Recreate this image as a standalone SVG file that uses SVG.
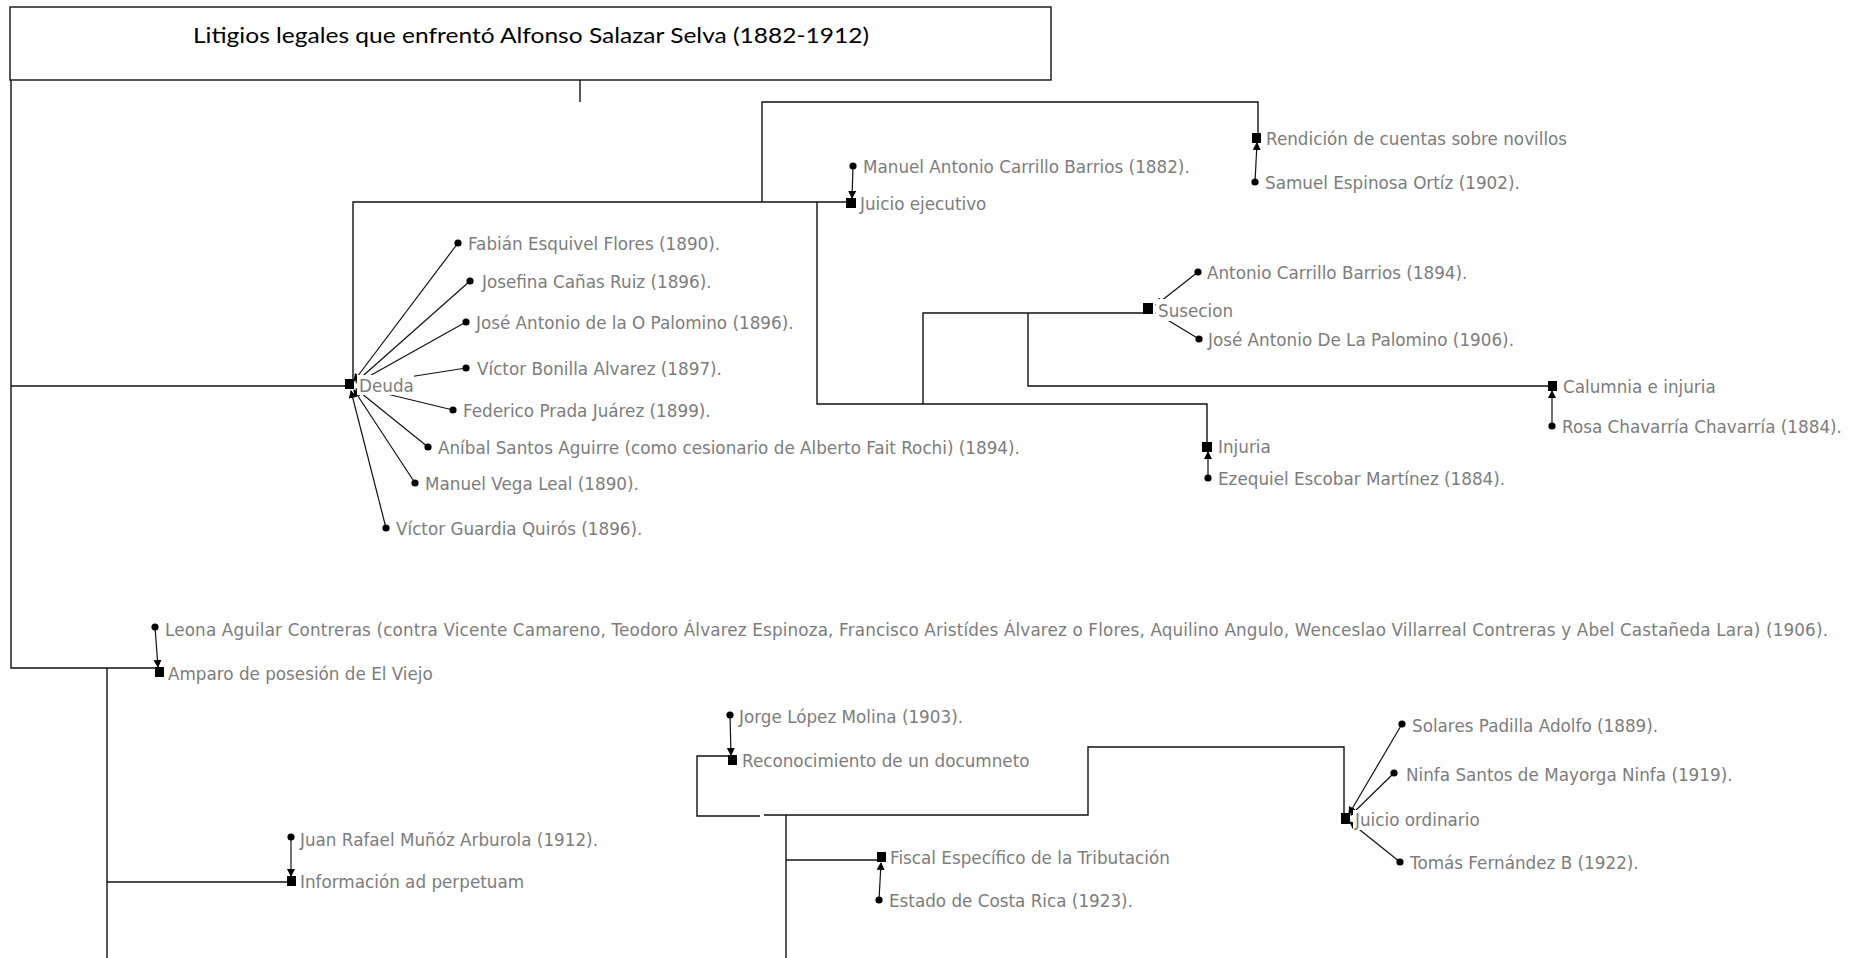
<svg xmlns="http://www.w3.org/2000/svg" width="1870" height="958" viewBox="0 0 1870 958">
<style>
.ln{fill:none;stroke:#111;stroke-width:1.4}
.ar{fill:none;stroke:#111;stroke-width:1.2;marker-end:url(#ah)}
.lb{font-family:"DejaVu Sans","Liberation Sans",sans-serif;font-size:16.8px;fill:#7c7c7c}
.sq{fill:#000}
.dt{fill:#000}
.bg{fill:#fff}
</style>
<defs>
<marker id="ah" markerUnits="userSpaceOnUse" markerWidth="9" markerHeight="9" refX="7" refY="4" orient="auto">
<path d="M0,0 L8,4 L0,8 Z" fill="#000"/>
</marker>
</defs>
<rect width="1870" height="958" fill="#fff"/>

<g id="connectors">
<line class="ln" x1="580" y1="80" x2="580" y2="102"/>
<polyline class="ln" points="11,80 11,668 155,668"/>
<line class="ln" x1="11" y1="386" x2="345" y2="386"/>
<polyline class="ln" points="353,380 353,202 846,202"/>
<polyline class="ln" points="762,202 762,102 1258,102 1258,133"/>
<polyline class="ln" points="817,202 817,404 1207,404 1207,442"/>
<polyline class="ln" points="923,404 923,313 1143,313"/>
<polyline class="ln" points="1028,313 1028,386 1548,386"/>
<line class="ln" x1="107" y1="668" x2="107" y2="958"/>
<line class="ln" x1="107" y1="882" x2="287" y2="882"/>
<polyline class="ln" points="728,756 697,756 697,816 760,816"/>
<polyline class="ln" points="764,815 1088,815 1088,747 1344,747 1344,813"/>
<line class="ln" x1="786" y1="815" x2="786" y2="958"/>
<line class="ln" x1="786" y1="860" x2="877" y2="860"/>
<!-- Deuda fan -->
<line class="ar" x1="458" y1="243" x2="354" y2="381"/>
<line class="ar" x1="470" y1="281" x2="356" y2="382"/>
<line class="ar" x1="466" y1="322" x2="357" y2="383"/>
<line class="ar" x1="466" y1="368" x2="358" y2="385"/>
<line class="ar" x1="453" y1="410" x2="358" y2="387"/>
<line class="ar" x1="428" y1="447" x2="356" y2="389"/>
<line class="ar" x1="415" y1="483" x2="354" y2="390"/>
<line class="ar" x1="386" y1="528" x2="351" y2="391"/>
<!-- Susecion fan -->
<line class="ar" x1="1198" y1="272" x2="1156" y2="305"/>
<line class="ar" x1="1199" y1="339" x2="1156" y2="313"/>
<!-- Juicio ordinario fan -->
<line class="ar" x1="1402" y1="724" x2="1349" y2="814"/>
<line class="ar" x1="1394" y1="773" x2="1351" y2="815"/>
<line class="ar" x1="1400" y1="862" x2="1350" y2="822"/>
<!-- single arrows -->
<line class="ar" x1="853" y1="166" x2="852" y2="198"/>
<line class="ar" x1="1255" y1="182" x2="1257" y2="143"/>
<line class="ar" x1="1208" y1="478" x2="1208" y2="452"/>
<line class="ar" x1="1552" y1="426" x2="1552" y2="391"/>
<line class="ar" x1="155" y1="627" x2="158" y2="667"/>
<line class="ar" x1="291" y1="837" x2="291" y2="876"/>
<line class="ar" x1="730" y1="715" x2="731" y2="755"/>
<line class="ar" x1="879" y1="900" x2="881" y2="863"/>
</g>

<g id="title">
<rect x="10" y="7" width="1041" height="73" fill="#fff" stroke="#111" stroke-width="1.4"/>
<text x="531" y="43" text-anchor="middle" font-family="Lato,'Liberation Sans',sans-serif" font-size="21" fill="#000" textLength="676" lengthAdjust="spacingAndGlyphs">Litigios legales que enfrentó Alfonso Salazar Selva (1882-1912)</text>
</g>

<g id="deuda">
<rect class="bg" x="357" y="375" width="57" height="20"/>
<rect class="sq" x="345" y="379" width="9" height="10"/>
<text class="lb" x="359" y="392">Deuda</text>
</g>
<g id="p-fabian"><circle class="dt" cx="458" cy="243" r="3.6"/><text class="lb" x="468" y="250">Fabián Esquivel Flores (1890).</text></g>
<g id="p-josefina"><circle class="dt" cx="470" cy="281" r="3.6"/><text class="lb" x="482" y="288">Josefina Cañas Ruiz (1896).</text></g>
<g id="p-jose-o"><circle class="dt" cx="466" cy="322" r="3.6"/><text class="lb" x="476" y="329">José Antonio de la O Palomino (1896).</text></g>
<g id="p-bonilla"><circle class="dt" cx="466" cy="368" r="3.6"/><text class="lb" x="477" y="375">Víctor Bonilla Alvarez (1897).</text></g>
<g id="p-federico"><circle class="dt" cx="453" cy="410" r="3.6"/><text class="lb" x="463" y="417">Federico Prada Juárez (1899).</text></g>
<g id="p-anibal"><circle class="dt" cx="428" cy="447" r="3.6"/><text class="lb" x="438" y="454">Aníbal Santos Aguirre (como cesionario de Alberto Fait Rochi) (1894).</text></g>
<g id="p-manuel-vega"><circle class="dt" cx="415" cy="483" r="3.6"/><text class="lb" x="425" y="490">Manuel Vega Leal (1890).</text></g>
<g id="p-guardia"><circle class="dt" cx="386" cy="528" r="3.6"/><text class="lb" x="396" y="535">Víctor Guardia Quirós (1896).</text></g>

<g id="juicio-ejecutivo"><rect class="sq" x="846" y="198" width="10" height="10"/><text class="lb" x="860" y="210">Juicio ejecutivo</text></g>
<g id="p-manuel-carrillo"><circle class="dt" cx="853" cy="166" r="3.6"/><text class="lb" x="863" y="173">Manuel Antonio Carrillo Barrios (1882).</text></g>

<g id="rendicion"><rect class="sq" x="1252" y="133" width="9" height="10"/><text class="lb" x="1266" y="145">Rendición de cuentas sobre novillos</text></g>
<g id="p-samuel"><circle class="dt" cx="1255" cy="182" r="3.6"/><text class="lb" x="1265" y="189">Samuel Espinosa Ortíz (1902).</text></g>

<g id="susecion">
<rect class="bg" x="1156" y="299" width="76" height="22"/>
<rect class="sq" x="1143" y="303" width="10" height="11"/>
<text class="lb" x="1158" y="317">Susecion</text>
</g>
<g id="p-antonio"><circle class="dt" cx="1198" cy="272" r="3.6"/><text class="lb" x="1207" y="279">Antonio Carrillo Barrios (1894).</text></g>
<g id="p-jose-de-la"><circle class="dt" cx="1199" cy="339" r="3.6"/><text class="lb" x="1208" y="346">José Antonio De La Palomino (1906).</text></g>

<g id="calumnia"><rect class="sq" x="1548" y="381" width="9" height="10"/><text class="lb" x="1563" y="393">Calumnia e injuria</text></g>
<g id="p-rosa"><circle class="dt" cx="1552" cy="426" r="3.6"/><text class="lb" x="1562" y="433">Rosa Chavarría Chavarría (1884).</text></g>

<g id="injuria"><rect class="sq" x="1202" y="442" width="10" height="10"/><text class="lb" x="1218" y="453">Injuria</text></g>
<g id="p-ezequiel"><circle class="dt" cx="1208" cy="478" r="3.6"/><text class="lb" x="1218" y="485">Ezequiel Escobar Martínez (1884).</text></g>

<g id="amparo"><rect class="sq" x="155" y="667" width="9" height="10"/><text class="lb" x="168" y="680">Amparo de posesión de El Viejo</text></g>
<g id="p-leona"><circle class="dt" cx="155" cy="627" r="3.6"/><text class="lb" x="165" y="636" textLength="1663">Leona Aguilar Contreras (contra Vicente Camareno, Teodoro Álvarez Espinoza, Francisco Aristídes Álvarez o Flores, Aquilino Angulo, Wenceslao Villarreal Contreras y Abel Castañeda Lara) (1906).</text></g>

<g id="informacion"><rect class="sq" x="287" y="876" width="9" height="10"/><text class="lb" x="300" y="888">Información ad perpetuam</text></g>
<g id="p-juan"><circle class="dt" cx="291" cy="837" r="3.6"/><text class="lb" x="300" y="846">Juan Rafael Muñóz Arburola (1912).</text></g>

<g id="reconocimiento"><rect class="sq" x="728" y="755" width="9" height="10"/><text class="lb" x="742" y="767">Reconocimiento de un documneto</text></g>
<g id="p-jorge"><circle class="dt" cx="730" cy="715" r="3.6"/><text class="lb" x="739" y="723">Jorge López Molina (1903).</text></g>

<g id="fiscal"><rect class="sq" x="877" y="852" width="9" height="10"/><text class="lb" x="890" y="864">Fiscal Específico de la Tributación</text></g>
<g id="p-estado"><circle class="dt" cx="879" cy="900" r="3.6"/><text class="lb" x="889" y="907">Estado de Costa Rica (1923).</text></g>

<g id="juicio-ordinario">
<rect class="bg" x="1353" y="810" width="130" height="20"/>
<rect class="sq" x="1341" y="813" width="9" height="11"/>
<text class="lb" x="1355" y="826">Juicio ordinario</text>
</g>
<g id="p-solares"><circle class="dt" cx="1402" cy="724" r="3.6"/><text class="lb" x="1412" y="732">Solares Padilla Adolfo (1889).</text></g>
<g id="p-ninfa"><circle class="dt" cx="1394" cy="773" r="3.6"/><text class="lb" x="1406" y="781">Ninfa Santos de Mayorga Ninfa (1919).</text></g>
<g id="p-tomas"><circle class="dt" cx="1400" cy="862" r="3.6"/><text class="lb" x="1410" y="869">Tomás Fernández B (1922).</text></g>
</svg>
